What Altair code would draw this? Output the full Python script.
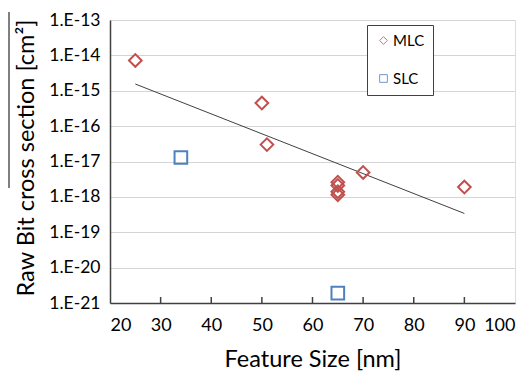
import altair as alt
import pandas as pd

# ---- data ----
mlc_x = [25, 50, 51, 65, 65, 65, 65, 70, 90]
mlc_y = [7.2e-15, 4.5e-16, 3.0e-17, 2.6e-18, 2.1e-18, 1.4e-18, 1.15e-18, 4.9e-18, 1.9e-18]
slc_x = [34, 65]
slc_y = [1.3e-17, 1.9e-21]
trend_x = [25, 90]
trend_y = [1.55e-15, 3.4e-19]
x_labels = [20, 30, 40, 50, 60, 70, 80, 90, 100]
x_ticks = [30, 40, 50, 60, 70, 80, 90]
y_ticks = [1e-21, 1e-20, 1e-19, 1e-18, 1e-17, 1e-16, 1e-15, 1e-14, 1e-13]
series = ["MLC", "SLC"]

FONT = "Lato"
W, H = 405, 283

pts = pd.DataFrame({
    "size": mlc_x + slc_x,
    "sigma": mlc_y + slc_y,
    "type": ["MLC"] * len(mlc_x) + ["SLC"] * len(slc_x),
})
trend = pd.DataFrame({"size": trend_x, "sigma": trend_y})
xt = pd.DataFrame({"size": x_ticks})

xscale = alt.Scale(domain=[20, 100], nice=False, zero=False)
yscale = alt.Scale(type="log", domain=[1e-21, 1e-13], nice=False)

xaxis = alt.Axis(
    values=x_labels, title="Feature Size [nm]", grid=False, ticks=False,
    labelFontSize=18, labelPadding=13, labelFont=FONT, labelColor="#000",
    titleFont=FONT, titleFontSize=23.5, titleFontWeight="normal", titleColor="#000",
    titleX=W / 2, titleY=63, titleBaseline="alphabetic",
    domainColor="#404040", domainWidth=1.5,
)
yaxis = alt.Axis(
    values=y_ticks, labelExpr="'1.E-' + round(-log(datum.value)/LN10)",
    grid=True, gridColor="#d4d4d4", gridWidth=1, ticks=False,
    labelFontSize=17.5, labelPadding=10, labelFont=FONT, labelColor="#000",
    title="Raw Bit cross section [cm²]",
    titleFont=FONT, titleFontSize=23.5, titleFontWeight="normal", titleColor="#000",
    titleX=-77, titleY=H / 2 - 4, titleBaseline="alphabetic", titleAngle=270,
    domainColor="#404040", domainWidth=1.5,
)

legend = alt.Legend(
    title=None, orient="none", legendX=257, legendY=5,
    strokeColor="#404040", fillColor="white", padding=8,
    labelFont=FONT, labelFontSize=15, labelColor="#000", labelOffset=2,
    symbolSize=60, symbolStrokeWidth=1, symbolOpacity=0.8, symbolOffset=1,
    rowPadding=22,
)

points = alt.Chart(pts).mark_point(filled=False, strokeWidth=2, size=160, opacity=1).encode(
    x=alt.X("size:Q", scale=xscale, axis=xaxis),
    y=alt.Y("sigma:Q", scale=yscale, axis=yaxis),
    color=alt.Color("type:N", scale=alt.Scale(domain=series, range=["#C0504D", "#4F81BD"]), legend=legend),
    shape=alt.Shape("type:N", scale=alt.Scale(domain=series, range=["diamond", "square"]), legend=legend),
)

line = alt.Chart(trend).mark_line(color="#404040", strokeWidth=1).encode(
    x=alt.X("size:Q", scale=xscale),
    y=alt.Y("sigma:Q", scale=yscale),
)

xtick_rules = alt.Chart(xt).mark_rule(color="#404040", strokeWidth=1.5).encode(
    x=alt.X("size:Q", scale=xscale),
    y=alt.value(H - 6), y2=alt.value(H),
)

overline = alt.Chart(pd.DataFrame({"k": [0]})).mark_rule(color="#000", strokeWidth=1).encode(
    x=alt.value(-101), y=alt.value(-8), y2=alt.value(168),
)

chart = alt.layer(line, points, xtick_rules, overline).properties(
    width=W, height=H,
    autosize=alt.AutoSizeParams(type="none"),
    padding={"left": 102, "top": 12, "right": 8, "bottom": 70},
).configure_view(stroke="#404040", strokeWidth=1.5).configure(background="white")

chart.save("out.html", embed_options={"renderer": "svg", "actions": False})
